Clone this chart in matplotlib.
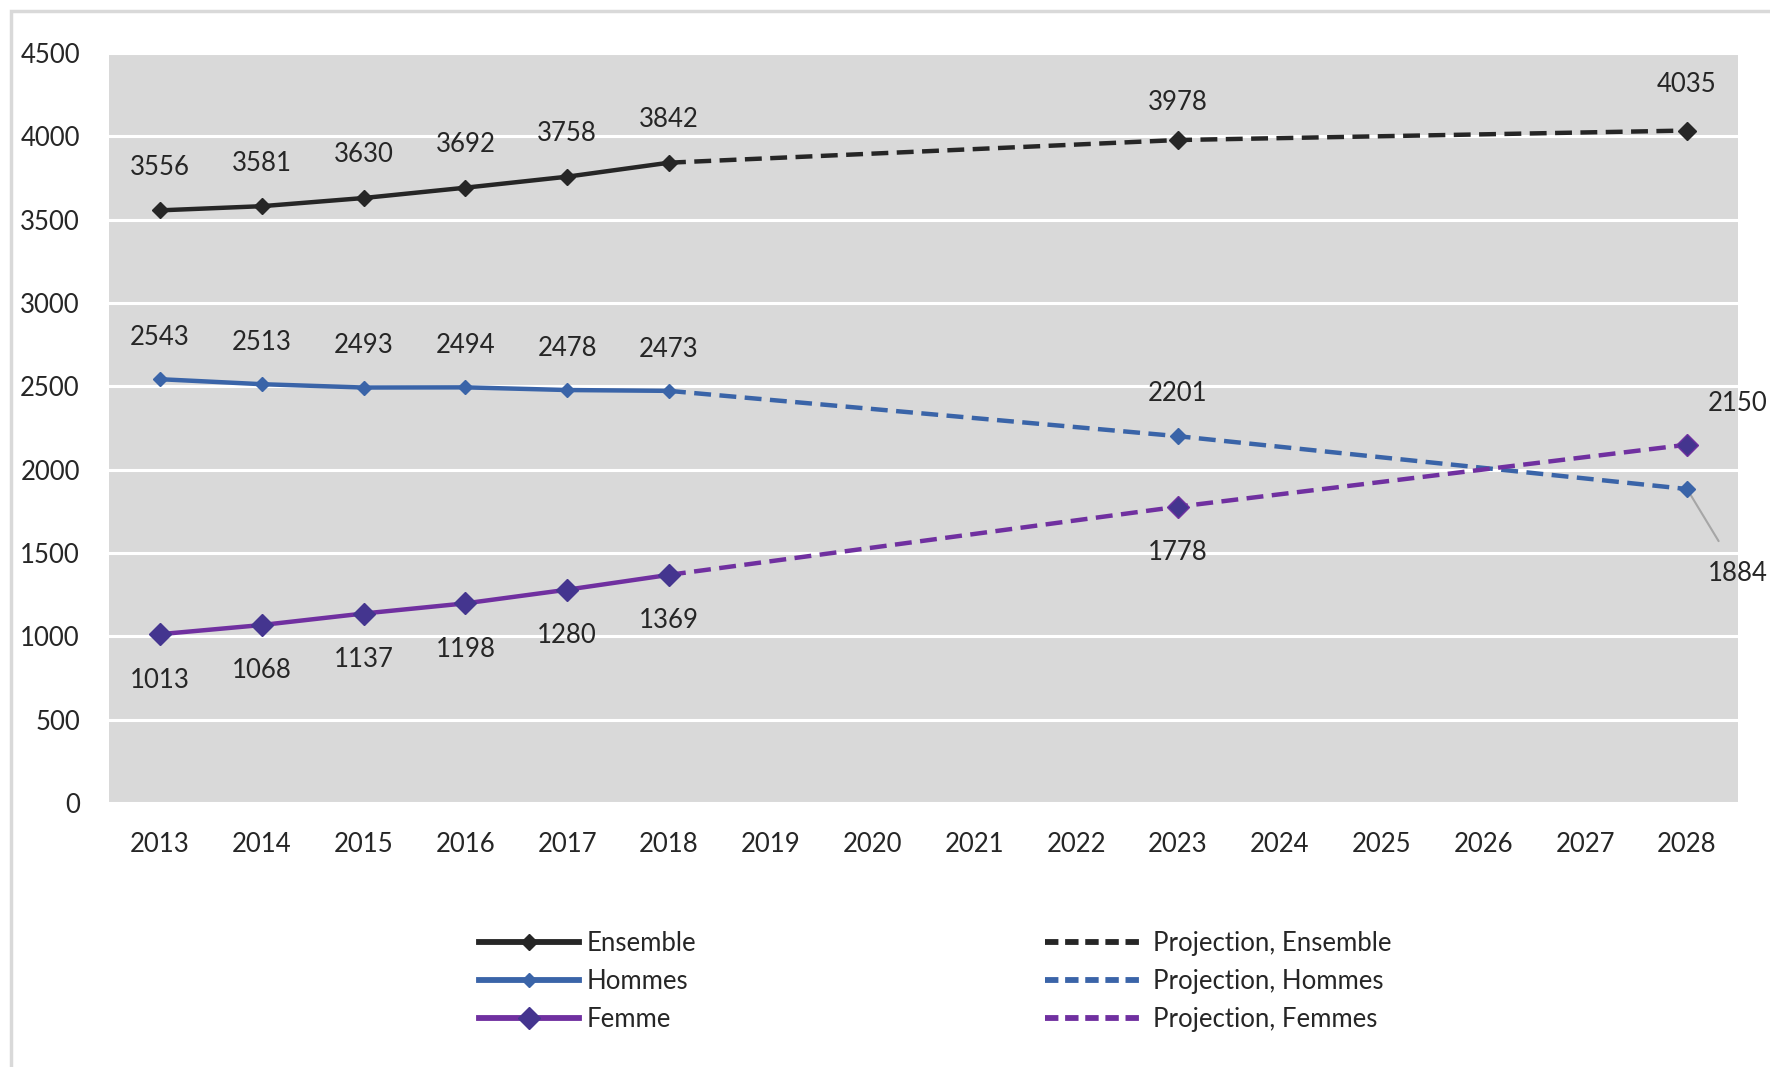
import matplotlib
matplotlib.use("Agg")
import matplotlib.pyplot as plt
from matplotlib.patches import Rectangle

# Categories on the x axis (evenly spaced, as labels)
years = ["2013", "2014", "2015", "2016", "2017", "2018", "2019", "2020",
         "2021", "2022", "2023", "2024", "2025", "2026", "2027", "2028"]

# Observed values 2013-2018
obs_years = ["2013", "2014", "2015", "2016", "2017", "2018"]
ensemble = [3556, 3581, 3630, 3692, 3758, 3842]
hommes = [2543, 2513, 2493, 2494, 2478, 2473]
femme = [1013, 1068, 1137, 1198, 1280, 1369]

# Projections (starting from the last observed year)
proj_years = ["2018", "2023", "2028"]
proj_ensemble = [3842, 3978, 4035]
proj_hommes = [2473, 2201, 1884]
proj_femmes = [1369, 1778, 2150]

yticks = [0, 500, 1000, 1500, 2000, 2500, 3000, 3500, 4000, 4500]

C_ENS = "#262626"
C_HOM = "#3A64A8"
C_FEM = "#7030A0"
C_FEM_MK = "#44358F"
TXT = "#262626"

plt.rcParams["font.family"] = ["Lato", "DejaVu Sans"]
FS = 18.5

fig = plt.figure(figsize=(17.7, 10.67), dpi=100)
ax = fig.add_axes([0.0616, 0.2474, 0.9203, 0.7029])

idx = {y: i for i, y in enumerate(years)}
xo = [idx[y] for y in obs_years]
xp = [idx[y] for y in proj_years]

ax.set_facecolor("#D9D9D9")
for s in ax.spines.values():
    s.set_visible(False)
ax.set_axisbelow(True)
ax.yaxis.grid(True, color="white", linewidth=2.2)
ax.xaxis.grid(False)

lw = 3.2
dash = (0, (3.8, 1.9))

l_ens, = ax.plot(xo, ensemble, color=C_ENS, lw=lw, marker="D", ms=8,
                 mfc=C_ENS, mec=C_ENS, label="Ensemble", zorder=4)
l_hom, = ax.plot(xo, hommes, color=C_HOM, lw=lw, marker="D", ms=7,
                 mfc=C_HOM, mec=C_HOM, label="Hommes", zorder=4)
l_fem, = ax.plot(xo, femme, color=C_FEM, lw=lw, marker="D", ms=11,
                 mfc=C_FEM_MK, mec=C_FEM_MK, label="Femme", zorder=4)

p_ens, = ax.plot(xp, proj_ensemble, color=C_ENS, lw=lw, ls=dash,
                 label="Projection, Ensemble", zorder=3)
p_hom, = ax.plot(xp, proj_hommes, color=C_HOM, lw=lw, ls=dash,
                 label="Projection, Hommes", zorder=3)
p_fem, = ax.plot(xp, proj_femmes, color=C_FEM, lw=lw, ls=dash,
                 label="Projection, Femmes", zorder=3)

# Markers on projected points
ax.plot(xp[1:], proj_ensemble[1:], ls="none", marker="D", ms=9,
        color=C_ENS, zorder=5)
ax.plot(xp[1:], proj_hommes[1:], ls="none", marker="D", ms=8,
        color=C_HOM, zorder=5)
ax.plot(xp[1:], proj_femmes[1:], ls="none", marker="D", ms=11,
        mfc=C_FEM_MK, mec=C_FEM, zorder=5)

ax.set_xlim(-0.5, len(years) - 0.5)
ax.set_ylim(0, 4500)
ax.set_xticks(range(len(years)))
ax.set_xticklabels(years)
ax.set_yticks(yticks)
ax.tick_params(axis="both", length=0, labelsize=FS, labelcolor=TXT)
ax.tick_params(axis="y", pad=21)
ax.tick_params(axis="x", pad=21)


def label(x, v, dy):
    ax.annotate(f"{v}", (x, v), xytext=(0, dy), textcoords="offset points",
                ha="center", va="center", fontsize=FS, color=TXT,
                annotation_clip=False)


for x, v in zip(xo, ensemble):
    label(x, v, 31)
label(xp[1], proj_ensemble[1], 27)
label(xp[2], proj_ensemble[2], 33)
for x, v in zip(xo, hommes):
    label(x, v, 30)
label(xp[1], proj_hommes[1], 31)
for x, v in zip(xo, femme):
    label(x, v, -33)
label(xp[1], proj_femmes[1], -33)

# Last-year labels placed at the right edge
ax.annotate(f"{proj_femmes[2]}", (xp[2], proj_femmes[2]),
            xytext=(len(years) - 0.5, 2400), textcoords="data",
            ha="center", va="center", fontsize=FS, color=TXT,
            annotation_clip=False)
ax.annotate(f"{proj_hommes[2]}", (xp[2], proj_hommes[2]),
            xytext=(len(years) - 0.5, 1380), textcoords="data",
            ha="center", va="center", fontsize=FS, color=TXT,
            annotation_clip=False,
            arrowprops=dict(arrowstyle="-", color="#A6A6A6", lw=1.5,
                            shrinkA=14, shrinkB=3))

leg_kw = dict(frameon=False, fontsize=FS, handlelength=3.9, handletextpad=0.3,
              labelspacing=0.5, borderpad=0, labelcolor=TXT, numpoints=1,
              loc="upper left")
leg1 = fig.legend(handles=[l_ens, l_hom, l_fem],
                  bbox_to_anchor=(466 / 1770, 1 - 918 / 1067), **leg_kw)
leg2 = fig.legend(handles=[p_ens, p_hom, p_fem],
                  bbox_to_anchor=(1032 / 1770, 1 - 918 / 1067), **leg_kw)
for h in leg1.get_lines():
    h.set_linewidth(4.2)
for h in leg2.get_lines():
    h.set_linewidth(4.2)
    h.set_linestyle((0, (2.3, 1.15)))

# Outer chart frame
fig.add_artist(Rectangle((11 / 1770, -0.05), 1.2, 1 - 11 / 1067 + 0.05,
                         transform=fig.transFigure, fill=False,
                         edgecolor="#D9D9D9", lw=2.5))

fig.savefig("out.png", dpi=100, facecolor="white")
